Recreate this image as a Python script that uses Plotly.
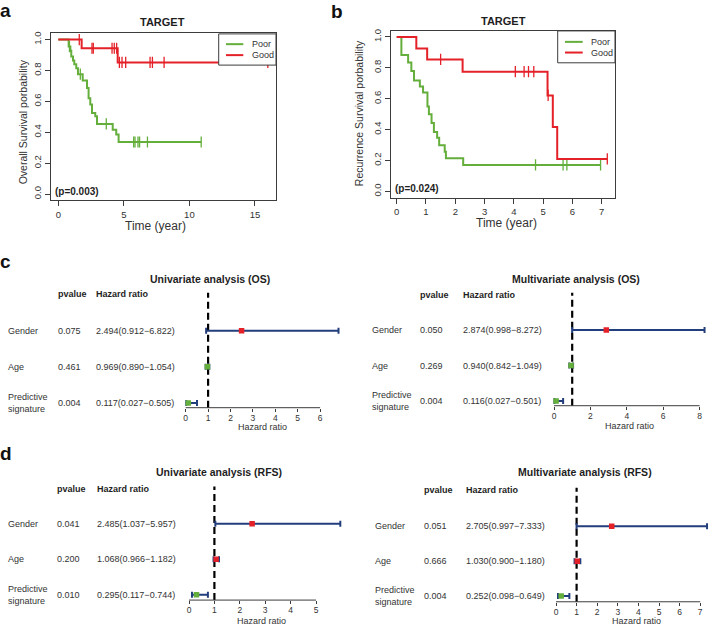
import plotly.graph_objects as go

W, H = 709, 626
FONT = "Liberation Sans, Arial, Helvetica, sans-serif"
RED = "#E42128"
GREEN = "#64AE3C"
NAVY = "#233E7C"
BOX = "#3c3c3c"
TXT = "#1e1e1e"

# ===================== DATA =====================
km_groups = ["Poor", "Good"]
km_yticks = [0.0, 0.2, 0.4, 0.6, 0.8, 1.0]

# Panel a: TARGET, overall survival
a_poor_event_t = [0.79, 0.92, 0.99, 1.12, 1.22, 1.37, 1.50, 1.86, 2.19, 2.31, 2.44, 2.57, 2.82, 2.95, 4.15, 4.42, 4.60]
a_poor_event_s = [0.955, 0.927, 0.89, 0.864, 0.84, 0.815, 0.776, 0.735, 0.686, 0.62, 0.58, 0.525, 0.503, 0.454, 0.417, 0.385, 0.337]
a_poor_censor_t = [0.85, 1.68, 3.66, 5.75, 5.85, 6.08, 6.2, 6.8, 10.9]
a_good_event_t = [1.78, 4.53]
a_good_event_s = [0.944, 0.852]
a_good_censor_t = [1.6, 2.57, 2.67, 4.1, 4.27, 4.45, 4.66, 4.86, 5.14, 7.0, 7.18, 8.07, 15.98]
a_xticks = [0, 5, 10, 15]
a_pvalue = "(p=0.003)"

# Panel b: TARGET, recurrence survival
b_poor_event_t = [0.16, 0.39, 0.5, 0.59, 0.79, 0.9, 1.05, 1.1, 1.19, 1.27, 1.38, 1.45, 1.64, 1.68, 2.27]
b_poor_event_s = [0.882, 0.835, 0.78, 0.717, 0.679, 0.64, 0.55, 0.5, 0.443, 0.385, 0.347, 0.298, 0.257, 0.214, 0.171]
b_poor_censor_t = [4.74, 5.68, 5.81, 6.96]
b_good_event_t = [0.67, 1.04, 2.25, 5.15, 5.33, 5.48]
b_good_event_s = [0.925, 0.854, 0.775, 0.621, 0.416, 0.21]
b_good_censor_t = [1.5, 4.05, 4.35, 4.5, 4.68, 5.17, 7.19]
b_xticks = [0, 1, 2, 3, 4, 5, 6, 7]
b_pvalue = "(p=0.024)"

# Forest plots
forest_vars = ["Gender", "Age", "Predictive<br>signature"]
forest_rows = [3, 2, 1]

c_uni_p = ["0.075", "0.461", "0.004"]
c_uni_hr = [2.494, 0.969, 0.117]
c_uni_lo = [0.912, 0.890, 0.027]
c_uni_hi = [6.822, 1.054, 0.505]
c_uni_ticks = [0, 1, 2, 3, 4, 5, 6]

c_mul_p = ["0.050", "0.269", "0.004"]
c_mul_hr = [2.874, 0.940, 0.116]
c_mul_lo = [0.998, 0.842, 0.027]
c_mul_hi = [8.272, 1.049, 0.501]
c_mul_ticks = [0, 2, 4, 6, 8]

d_uni_p = ["0.041", "0.200", "0.010"]
d_uni_hr = [2.485, 1.068, 0.295]
d_uni_lo = [1.037, 0.966, 0.117]
d_uni_hi = [5.957, 1.182, 0.744]
d_uni_ticks = [0, 1, 2, 3, 4, 5]

d_mul_p = ["0.051", "0.666", "0.004"]
d_mul_hr = [2.705, 1.030, 0.252]
d_mul_lo = [0.997, 0.900, 0.098]
d_mul_hi = [7.333, 1.180, 0.649]
d_mul_ticks = [0, 1, 2, 3, 4, 5, 6, 7]

# ===================== HELPERS =====================
def px_x(p):
    return p / W


def px_y(p):
    return 1 - p / H


def ann(text, x, y, size, xref="paper", yref="paper", xanchor="center",
        yanchor="middle", bold=False, angle=0, color=TXT, align="left"):
    return dict(text=f"<b>{text}</b>" if bold else text, x=x, y=y, xref=xref, yref=yref,
                xanchor=xanchor, yanchor=yanchor, showarrow=False, align=align, borderpad=0,
                font=dict(size=size, color=color, family=FONT), textangle=angle)


def km_path(event_t, event_s, censor_t):
    end = max(list(event_t) + list(censor_t))
    return [0.0] + list(event_t) + [end], [1.0] + list(event_s) + [event_s[-1]]


def surv_at(t, event_t, event_s):
    s = 1.0
    for et, es in zip(event_t, event_s):
        if et <= t:
            s = es
    return s


traces = []
shapes = []
annotations = []
layout = dict(width=W, height=H, margin=dict(l=0, r=0, t=0, b=0),
              paper_bgcolor="white", plot_bgcolor="white", showlegend=False,
              font=dict(family=FONT, color=TXT))

# ===================== KM PANELS =====================
km_panels = [
    dict(n=1, letter="a", letter_xy=(5, 8.5), title="TARGET", title_xy=(162, 20),
         ylab="Overall Survival porbability", ylab_xy=(22.7, 120),
         xlab_xy=(155, 225), pval=a_pvalue, pval_xy=(53.5, 190.5), xticks=a_xticks,
         series=[(a_poor_event_t, a_poor_event_s, a_poor_censor_t, GREEN),
                 (a_good_event_t, a_good_event_s, a_good_censor_t, RED)],
         x0px=58.3, xs=13.11, xr=(-0.58, 16.64), y0px=192.7, ys=155.0, yr=(-0.04, 1.04),
         leg_box=(218.7, 32, 276, 63.3), leg_line=(226, 243.3), leg_text_x=250.7, leg_y=(42.3, 53.3)),
    dict(n=2, letter="b", letter_xy=(337, 9.5), title="TARGET", title_xy=(503, 19.5),
         ylab="Recurrence Survival porbability", ylab_xy=(359, 111.5),
         xlab_xy=(506, 221.7), pval=b_pvalue, pval_xy=(394.3, 187), xticks=b_xticks,
         series=[(b_poor_event_t, b_poor_event_s, b_poor_censor_t, GREEN),
                 (b_good_event_t, b_good_event_s, b_good_censor_t, RED)],
         x0px=396.7, xs=29.29, xr=(-0.2, 7.455), y0px=190.0, ys=155.0, yr=(-0.04, 1.04),
         leg_box=(557.7, 29, 615, 61), leg_line=(565, 582.7), leg_text_x=590, leg_y=(40, 50.7)),
]

for p in km_panels:
    n = p["n"]
    xa, ya = f"x{n}", f"y{n}"
    xkey = "xaxis" if n == 1 else f"xaxis{n}"
    ykey = "yaxis" if n == 1 else f"yaxis{n}"
    L = p["x0px"] + p["xr"][0] * p["xs"]
    R = p["x0px"] + p["xr"][1] * p["xs"]
    T = p["y0px"] - p["yr"][1] * p["ys"]
    B = p["y0px"] - p["yr"][0] * p["ys"]
    common = dict(showline=True, mirror=True, linecolor=BOX, linewidth=1, ticks="outside",
                  ticklen=5, tickwidth=1, tickcolor=BOX, showgrid=False, zeroline=False,
                  tickfont=dict(size=9.5, color="#333"), fixedrange=True)
    layout[xkey] = dict(domain=[px_x(L), px_x(R)], range=list(p["xr"]), anchor=ya,
                        tickvals=p["xticks"], **common)
    layout[ykey] = dict(domain=[px_y(B), px_y(T)], range=list(p["yr"]), anchor=xa,
                        tickvals=km_yticks, ticktext=[f"{v:.1f}" for v in km_yticks],
                        tickangle=-90, **common)
    for (et, es, ct, col) in p["series"]:
        xs_, ys_ = km_path(et, es, ct)
        traces.append(go.Scatter(x=xs_, y=ys_, mode="lines", line=dict(color=col, width=2, shape="hv"),
                                 xaxis=xa, yaxis=ya, hoverinfo="skip"))
        traces.append(go.Scatter(x=ct, y=[surv_at(t, et, es) for t in ct], mode="markers",
                                 marker=dict(symbol="line-ns", size=8, line=dict(color=col, width=1.3)),
                                 xaxis=xa, yaxis=ya, hoverinfo="skip"))
    annotations.append(ann(p["letter"], px_x(p["letter_xy"][0]), px_y(p["letter_xy"][1]), 19, bold=True, color="#111"))
    annotations.append(ann(p["title"], px_x(p["title_xy"][0]), px_y(p["title_xy"][1]), 11, bold=True))
    annotations.append(ann(p["ylab"], px_x(p["ylab_xy"][0]), px_y(p["ylab_xy"][1]), 10.5, angle=-90, color="#333"))
    annotations.append(ann("Time (year)", px_x(p["xlab_xy"][0]), px_y(p["xlab_xy"][1]), 12, color="#333"))
    annotations.append(ann(p["pval"], px_x(p["pval_xy"][0]), px_y(p["pval_xy"][1]), 10, bold=True, xanchor="left"))
    bx0, by0, bx1, by1 = p["leg_box"]
    shapes.append(dict(type="rect", xref="paper", yref="paper", x0=px_x(bx0), x1=px_x(bx1),
                       y0=px_y(by1), y1=px_y(by0), line=dict(color=BOX, width=1), fillcolor="white", layer="above"))
    for name, (_, _, _, col), ly in zip(km_groups, p["series"], p["leg_y"]):
        shapes.append(dict(type="line", xref="paper", yref="paper", x0=px_x(p["leg_line"][0]),
                           x1=px_x(p["leg_line"][1]), y0=px_y(ly), y1=px_y(ly),
                           line=dict(color=col, width=2), layer="above"))
        annotations.append(ann(name, px_x(p["leg_text_x"]), px_y(ly), 9, xanchor="left", color="#333"))

# ===================== FOREST PANELS =====================
forest_panels = [
    dict(n=3, title="Univariate analysis (OS)", title_xy=(210, 277.7), letter="c", letter_xy=(5.8, 260),
         p=c_uni_p, hr=c_uni_hr, lo=c_uni_lo, hi=c_uni_hi, xticks=c_uni_ticks,
         x0px=185.7, xs=22.4, xr=(-0.3, 7.0), row3px=329.8, rowstep=36.2, axis_px=407, top_px=291.7,
         label_x=6.7, p_x=56.7, hr_x=95, header_px=292.7, xlab_xy=(262, 426.5)),
    dict(n=4, title="Multivariate analysis (OS)", title_xy=(575.8, 277.7), letter=None, letter_xy=None,
         p=c_mul_p, hr=c_mul_hr, lo=c_mul_lo, hi=c_mul_hi, xticks=c_mul_ticks,
         x0px=554, xs=18.2, xr=(-0.3, 8.5), row3px=329, rowstep=35.7, axis_px=405, top_px=291.7,
         label_x=371, p_x=419, hr_x=461.7, header_px=293.7, xlab_xy=(629.7, 425)),
    dict(n=5, title="Univariate analysis (RFS)", title_xy=(218.8, 471.7), letter="d", letter_xy=(6.3, 452.7),
         p=d_uni_p, hr=d_uni_hr, lo=d_uni_lo, hi=d_uni_hi, xticks=d_uni_ticks,
         x0px=189, xs=25.4, xr=(-0.3, 6.1), row3px=523.3, rowstep=35.7, axis_px=600, top_px=486,
         label_x=6.7, p_x=56, hr_x=95.7, header_px=488.3, xlab_xy=(261.7, 620.5)),
    dict(n=6, title="Multivariate analysis (RFS)", title_xy=(585, 471.7), letter=None, letter_xy=None,
         p=d_mul_p, hr=d_mul_hr, lo=d_mul_lo, hi=d_mul_hi, xticks=d_mul_ticks,
         x0px=556, xs=20.6, xr=(-0.3, 7.4), row3px=526, rowstep=35, axis_px=601.7, top_px=487.3,
         label_x=374, p_x=423.3, hr_x=465, header_px=490, xlab_xy=(636.8, 621)),
]

for fp in forest_panels:
    n = fp["n"]
    xa, ya = f"x{n}", f"y{n}"
    L = fp["x0px"] + fp["xr"][0] * fp["xs"]
    R = fp["x0px"] + fp["xr"][1] * fp["xs"]
    ylo = 3 - (fp["axis_px"] - fp["row3px"]) / fp["rowstep"]
    yhi = 3 - (fp["top_px"] - fp["row3px"]) / fp["rowstep"]
    layout[f"xaxis{n}"] = dict(domain=[px_x(L), px_x(R)], range=list(fp["xr"]), anchor=ya,
                               tickvals=fp["xticks"], ticks="outside", ticklen=3, tickwidth=1,
                               tickcolor=BOX, showline=False, showgrid=False, zeroline=False,
                               ticklabelstandoff=-1,
                               tickfont=dict(size=8.5, color="#333"), fixedrange=True)
    layout[f"yaxis{n}"] = dict(domain=[px_y(fp["axis_px"]), px_y(fp["top_px"])], range=[ylo, yhi],
                               visible=False, anchor=xa, fixedrange=True)
    # reference line HR = 1
    shapes.append(dict(type="line", xref=xa, yref=f"{ya} domain", x0=1, x1=1, y0=0, y1=1,
                       line=dict(color="black", width=2.2, dash="7px,4px"), layer="below"))
    # x axis line from first to last tick
    shapes.append(dict(type="line", xref=xa, yref=f"{ya} domain", x0=min(fp["xticks"]),
                       x1=max(fp["xticks"]), y0=0, y1=0, line=dict(color=BOX, width=1), layer="below"))
    hr, lo, hi = fp["hr"], fp["lo"], fp["hi"]
    traces.append(go.Scatter(
        x=hr, y=forest_rows, xaxis=xa, yaxis=ya, mode="markers", hoverinfo="skip",
        marker=dict(symbol="square", size=5.5, color=[RED if h > 1 else GREEN for h in hr], line=dict(width=0)),
        error_x=dict(type="data", symmetric=False, array=[u - h for u, h in zip(hi, hr)],
                     arrayminus=[h - l for h, l in zip(hr, lo)], color=NAVY, thickness=2, width=3)))
    annotations.append(ann(fp["title"], px_x(fp["title_xy"][0]), px_y(fp["title_xy"][1]), 10.5, bold=True))
    if fp["letter"]:
        annotations.append(ann(fp["letter"], px_x(fp["letter_xy"][0]), px_y(fp["letter_xy"][1]), 19, bold=True, color="#111"))
    annotations.append(ann("pvalue", px_x(fp["p_x"]), px_y(fp["header_px"]), 9, bold=True, xanchor="left"))
    annotations.append(ann("Hazard ratio", px_x(fp["hr_x"]), px_y(fp["header_px"]), 9, bold=True, xanchor="left"))
    for var, pv, h, l, u, r in zip(forest_vars, fp["p"], hr, lo, hi, forest_rows):
        annotations.append(ann(var, px_x(fp["label_x"]), r, 9, yref=ya, xanchor="left", color="#333"))
        annotations.append(ann(pv, px_x(fp["p_x"]), r, 9, yref=ya, xanchor="left", color="#333"))
        annotations.append(ann(f"{h:.3f}({l:.3f}\u2212{u:.3f})", px_x(fp["hr_x"]), r, 9, yref=ya,
                               xanchor="left", color="#333"))
    annotations.append(ann("Hazard ratio", px_x(fp["xlab_xy"][0]), px_y(fp["xlab_xy"][1]), 9, color="#333"))

layout["shapes"] = shapes
layout["annotations"] = annotations

fig = go.Figure(data=traces, layout=layout)
fig.write_html("out.html", config={"displayModeBar": False},
               post_script="document.body.style.margin='0px';document.body.style.padding='0px';")
